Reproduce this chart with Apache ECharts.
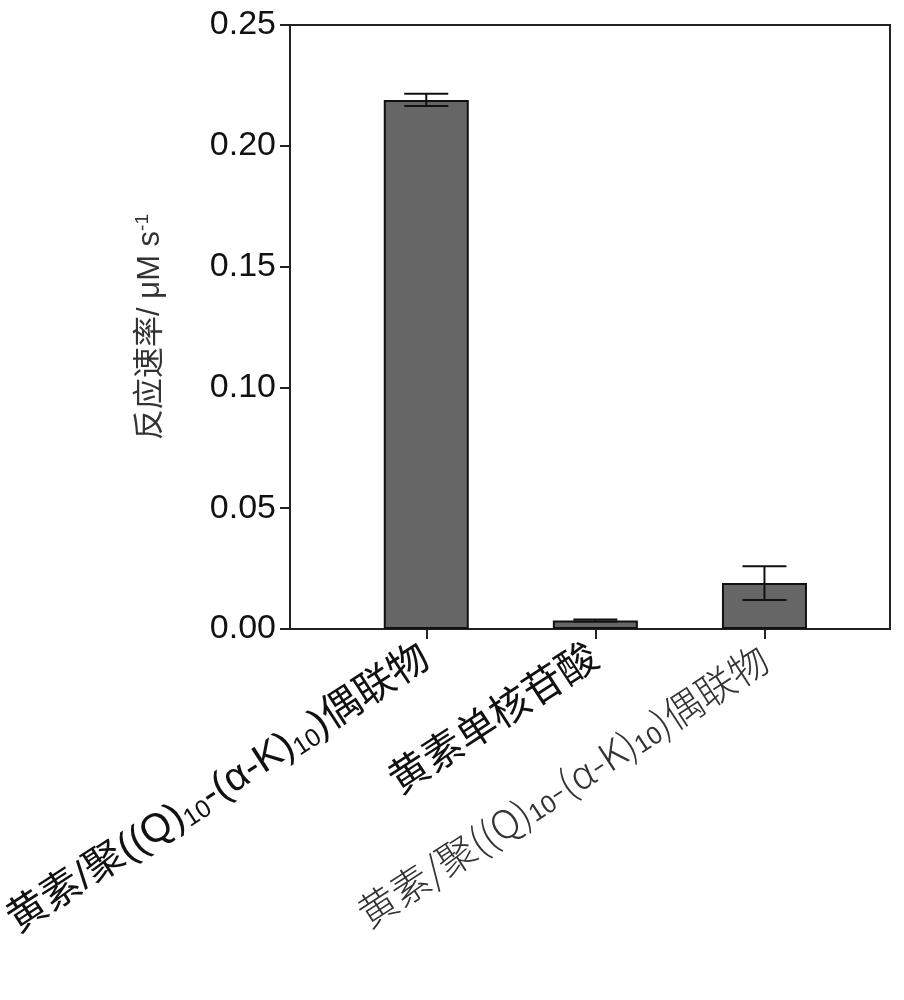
<!DOCTYPE html>
<html><head><meta charset="utf-8">
<script src="https://cdn.jsdelivr.net/npm/echarts@6/dist/echarts.min.js"></script>
<style>html,body{margin:0;background:#fff}#c{width:904px;height:1000px}</style>
</head><body><div id="c"></div>
<script>
var categories = ['A', 'B', 'C'];
var labelText = [
	'{b|黄素/聚((Q)}{s|10}{b|-(α-K)}{s|10}{b|)偶联物}',
	'{b|黄素单核苷酸}',
	'{l|黄素/聚((Q)}{ls|10}{l|-(α-K)}{ls|10}{l|)偶联物}'
];
var means = [0.219, 0.0035, 0.019];
var errs = [0.0025, 0.0004, 0.007];
var yTicks = [0, 0.05, 0.10, 0.15, 0.20, 0.25];

var chart = echarts.init(document.getElementById('c'));
var font = 'Liberation Sans, Noto Sans CJK SC';
chart.setOption({
	animation: false,
	grid: [
		{left: 290, right: 14, top: 25, bottom: 371, show: true, borderColor: '#222', borderWidth: 2},
		{left: 332, right: 55, top: 25, bottom: 371}
	],
	xAxis: [
		{gridIndex: 0, type: 'value', min: 0, max: 1, axisLine: {show: false}, axisTick: {show: false}, axisLabel: {show: false}, splitLine: {show: false}},
		{
			gridIndex: 1, type: 'category', data: categories,
			axisLine: {show: false},
			axisTick: {show: true, alignWithLabel: true, length: 10, lineStyle: {color: '#222', width: 2}},
			axisLabel: {
				rotate: 33, margin: 26, fontFamily: font,
				formatter: function(v, i) { return labelText[i]; },
				rich: {
					b: {fontSize: 40, color: '#111', fontFamily: font},
					s: {fontSize: 25, color: '#111', fontFamily: font, padding: [18, 0, 0, 0]},
					l: {fontSize: 39, color: '#333', fontFamily: 'Noto Sans CJK SC', fontWeight: 300},
					ls: {fontSize: 25, color: '#333', fontFamily: font, padding: [18, 0, 0, 0]}
				}
			}
		}
	],
	yAxis: [
		{
			gridIndex: 0, type: 'value', min: 0, max: 0.25, interval: 0.05,
			name: '反应速率/ μM s{sup|-1}', nameLocation: 'middle', nameGap: 122,
			nameTextStyle: {fontSize: 31, color: '#333', fontFamily: font, rich: {sup: {fontSize: 19, padding: [0, 0, 16, 0], color: '#333'}}},
			axisLine: {show: true, lineStyle: {color: '#222', width: 2}},
			axisTick: {show: true, length: 10, lineStyle: {color: '#222', width: 2}},
			axisLabel: {fontSize: 34, color: '#111', fontFamily: font, margin: 14,
				formatter: function(v) { return v.toFixed(2); }},
			splitLine: {show: false}
		},
		{gridIndex: 1, type: 'value', min: 0, max: 0.25, show: false}
	],
	series: [
		{
			type: 'bar', xAxisIndex: 1, yAxisIndex: 1, data: means, barWidth: 85,
			itemStyle: {color: '#666', borderColor: '#111', borderWidth: 2}
		},
		{
			type: 'custom', xAxisIndex: 1, yAxisIndex: 1,
			data: means.map(function(m, i) { return [i, m - errs[i], m + errs[i]]; }),
			renderItem: function(params, api) {
				var lo = api.coord([api.value(0), api.value(1)]);
				var hi = api.coord([api.value(0), api.value(2)]);
				var w = 22;
				var st = {stroke: '#111', lineWidth: 2};
				return {type: 'group', children: [
					{type: 'line', shape: {x1: lo[0], y1: lo[1], x2: hi[0], y2: hi[1]}, style: st},
					{type: 'line', shape: {x1: hi[0] - w, y1: hi[1], x2: hi[0] + w, y2: hi[1]}, style: st},
					{type: 'line', shape: {x1: lo[0] - w, y1: lo[1], x2: lo[0] + w, y2: lo[1]}, style: st}
				]};
			},
			z: 5
		}
	]
});
</script>
</body></html>
